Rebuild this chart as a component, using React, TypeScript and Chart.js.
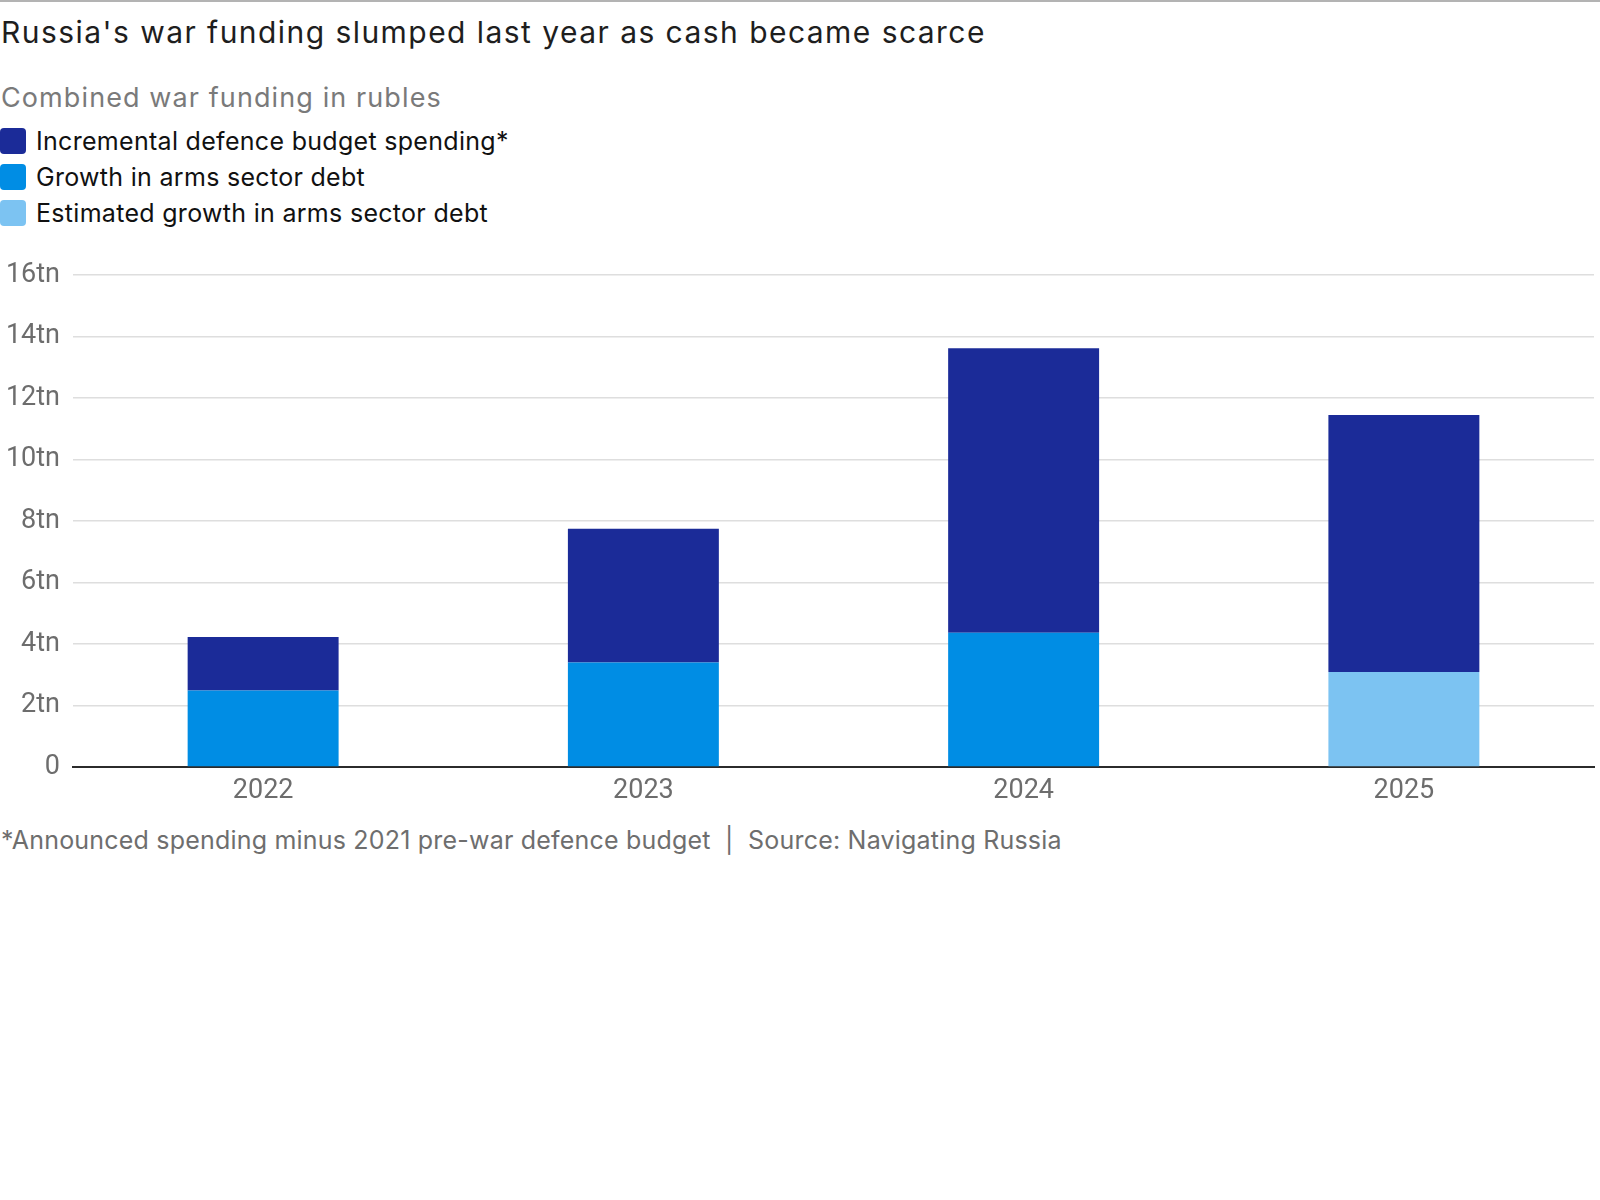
import React, { useEffect, useRef } from 'react';
import { Chart, registerables } from 'chart.js';

Chart.register(...registerables);

const categories = ['2022', '2023', '2024', '2025'];
const debtGrowth = [2.49, 3.4, 4.37, null];
const estimatedDebtGrowth = [null, null, null, 3.09];
const incrementalBudget = [1.74, 4.35, 9.25, 8.36];
const yMax = 16;
const yStep = 2;

const seriesNames = {
    incremental: 'Incremental defence budget spending*',
    debt: 'Growth in arms sector debt',
    estimated: 'Estimated growth in arms sector debt'
};

const NAVY = '#1b2b98';
const MID = '#008de4';
const LIGHT = '#7cc3f2';

const TEXT_FONT = 'Inter, Roboto, "Noto Sans", sans-serif';
const AXIS_FONT = 'Roboto, sans-serif';

const legendItems = [
    { label: seriesNames.incremental, color: NAVY },
    { label: seriesNames.debt, color: MID },
    { label: seriesNames.estimated, color: LIGHT }
];

function WarFundingChart() {
    const canvasRef = useRef<HTMLCanvasElement>(null);
    const chartRef = useRef<Chart | null>(null);

    useEffect(() => {
        if (!canvasRef.current) return;
        if (chartRef.current) chartRef.current.destroy();

        const axisFont = { family: AXIS_FONT, size: 27 };

        chartRef.current = new Chart(canvasRef.current, {
            type: 'bar',
            data: {
                labels: categories,
                datasets: [
                    { label: seriesNames.debt, data: debtGrowth, backgroundColor: MID },
                    { label: seriesNames.estimated, data: estimatedDebtGrowth, backgroundColor: LIGHT },
                    { label: seriesNames.incremental, data: incrementalBudget, backgroundColor: NAVY }
                ]
            },
            options: {
                animation: false,
                responsive: true,
                maintainAspectRatio: false,
                layout: { padding: { top: 0, right: 6, left: 0, bottom: 0 } },
                datasets: { bar: { categoryPercentage: 1, barPercentage: 0.397, borderWidth: 0 } },
                plugins: {
                    legend: { display: false },
                    tooltip: { enabled: false }
                },
                scales: {
                    x: {
                        stacked: true,
                        grid: { drawOnChartArea: false, drawTicks: false },
                        border: { display: true, color: '#2b2b2b', width: 2 },
                        ticks: { color: '#6d6d6d', font: axisFont, padding: 8 },
                        afterFit: (scale: any) => { scale.height = 50; }
                    },
                    y: {
                        stacked: true,
                        min: 0,
                        max: yMax,
                        grid: {
                            drawTicks: false,
                            lineWidth: 1.5,
                            color: (ctx: any) => (ctx.tick && ctx.tick.value === 0 ? 'rgba(0,0,0,0)' : '#dedede')
                        },
                        border: { display: false },
                        ticks: {
                            stepSize: yStep,
                            color: '#6d6d6d',
                            font: axisFont,
                            padding: 13,
                            callback: (v: any) => (Number(v) === 0 ? '0' : v + 'tn')
                        },
                        afterFit: (scale: any) => { scale.width = 73; }
                    }
                }
            }
        });

        return () => {
            if (chartRef.current) {
                chartRef.current.destroy();
                chartRef.current = null;
            }
        };
    }, []);

    return <canvas ref={canvasRef} />;
}

export default function App() {
    useEffect(() => {
        document.body.style.margin = '0';
    }, []);

    return (
        <div style={{ position: 'relative', width: 1600, height: 1200, background: '#fff', fontFamily: TEXT_FONT, overflow: 'hidden' }}>
            <div style={{ position: 'absolute', left: 0, top: 0, width: 1600, height: 2, background: '#b3b3b3' }} />
            <div style={{ position: 'absolute', left: 1, top: 17, fontSize: 30, letterSpacing: 1.45, lineHeight: 1, color: '#1e1e1e', whiteSpace: 'nowrap' }}>
                Russia's war funding slumped last year as cash became scarce
            </div>
            <div style={{ position: 'absolute', left: 1, top: 84, fontSize: 27, letterSpacing: 1.1, lineHeight: 1, color: '#7a7a7a', whiteSpace: 'nowrap' }}>
                Combined war funding in rubles
            </div>
            {legendItems.map((item, i) => (
                <div key={item.label} style={{ position: 'absolute', left: 0, top: 128 + i * 36.2, height: 26, display: 'flex', alignItems: 'center', whiteSpace: 'nowrap' }}>
                    <span style={{ display: 'inline-block', width: 26, height: 26, borderRadius: 4, background: item.color }} />
                    <span style={{ marginLeft: 10, fontSize: 25, letterSpacing: 0.3, lineHeight: 1, color: '#111' }}>{item.label}</span>
                </div>
            ))}
            <div style={{ position: 'absolute', left: 0, top: 246, width: 1600, height: 571 }}>
                <WarFundingChart />
            </div>
            <div style={{ position: 'absolute', left: 1, top: 828, fontSize: 25, letterSpacing: 0.2, lineHeight: 1, color: '#6e6e6e', whiteSpace: 'pre' }}>
                {'*Announced spending minus 2021 pre-war defence budget  |  Source: Navigating Russia'}
            </div>
        </div>
    );
}
